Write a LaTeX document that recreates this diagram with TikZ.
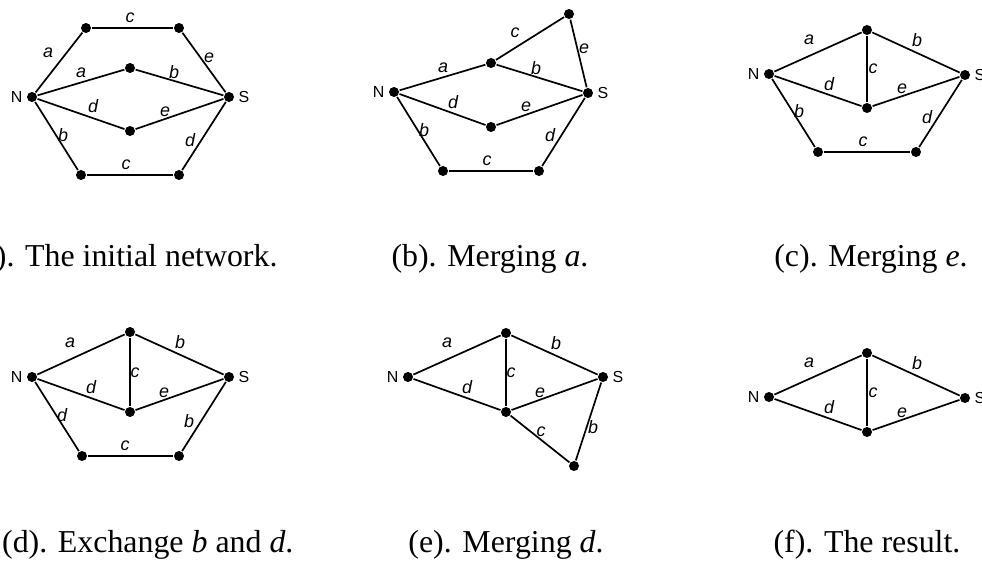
\documentclass[tikz,border=0pt]{standalone}
\usepackage{fontspec}
\setmainfont{Liberation Serif}
\setsansfont{Liberation Sans}
\usetikzlibrary{positioning}

\begin{document}
\begin{tikzpicture}[x=1bp,y=-1bp,line width=1.7bp,
      dot/.style={circle,fill,inner sep=0pt,minimum size=10bp},
      elbl/.style={font=\fontsize{18}{18}\sffamily\itshape,inner sep=0pt},
      nlbl/.style={font=\fontsize{16}{16}\sffamily,inner sep=1pt,label distance=2bp},
      captext/.style={font=\fontsize{32}{32}\selectfont,anchor=base}]
      \useasboundingbox (0,0) rectangle (982,561);
      \clip (0,0) rectangle (982,561);

      % (a) the initial network
      \node[dot,label={[nlbl]left:N}] (aN) at (32,97) {};
      \node[dot,label={[nlbl]right:S}] (aS) at (229,97) {};
      \node[dot] (aTL) at (86,28) {};
      \node[dot] (aTR) at (179,28) {};
      \node[dot] (aM1) at (130,68) {};
      \node[dot] (aM2) at (130,131) {};
      \node[dot] (aBL) at (81,175) {};
      \node[dot] (aBR) at (179,175) {};
      \path
        (aN) edge (aTL) (aTL) edge (aTR) (aTR) edge (aS)
        (aN) edge (aM1) (aM1) edge (aS)
        (aN) edge (aM2) (aM2) edge (aS)
        (aN) edge (aBL) (aBL) edge (aBR) (aBR) edge (aS);
      \node[elbl] at (48,53) {a};
      \node[elbl] at (130,18) {c};
      \node[elbl] at (209,58) {e};
      \node[elbl] at (81,73) {a};
      \node[elbl] at (174,72) {b};
      \node[elbl] at (93,106) {d};
      \node[elbl] at (165,112) {e};
      \node[elbl] at (63,135) {b};
      \node[elbl] at (190,140) {d};
      \node[elbl] at (126,165) {c};
      \node[captext,anchor=base west] (capa) at (-33,267) {(a). The initial network.};

      % (b) merging a
      \node[dot,label={[nlbl]left:N}] (bN) at (394,92) {};
      \node[dot,label={[nlbl]right:S}] (bS) at (588,93) {};
      \node[dot] (bT) at (569,14) {};
      \node[dot] (bM1) at (491,63) {};
      \node[dot] (bM2) at (491,127) {};
      \node[dot] (bBL) at (443,171) {};
      \node[dot] (bBR) at (539,171) {};
      \path
        (bN) edge (bM1) (bM1) edge (bT) (bT) edge (bS) (bM1) edge (bS)
        (bN) edge (bM2) (bM2) edge (bS)
        (bN) edge (bBL) (bBL) edge (bBR) (bBR) edge (bS);
      \node[elbl] at (515,33) {c};
      \node[elbl] at (584,49) {e};
      \node[elbl] at (443,68) {a};
      \node[elbl] at (536,68) {b};
      \node[elbl] at (453,102) {d};
      \node[elbl] at (526,107) {e};
      \node[elbl] at (424,130) {b};
      \node[elbl] at (550,135) {d};
      \node[elbl] at (487,161) {c};
      \node[captext] (capb) at (490,267) {(b). Merging \textit{a}.};

      % (c) merging e
      \node[dot,label={[nlbl]left:N}] (cN) at (769,74) {};
      \node[dot,label={[nlbl]right:S}] (cS) at (965,75) {};
      \node[dot] (cT) at (867,30) {};
      \node[dot] (cM) at (867,108) {};
      \node[dot] (cBL) at (818,152) {};
      \node[dot] (cBR) at (916,152) {};
      \path
        (cN) edge (cT) (cT) edge (cS) (cT) edge (cM)
        (cN) edge (cM) (cM) edge (cS)
        (cN) edge (cBL) (cBL) edge (cBR) (cBR) edge (cS);
      \node[elbl] at (809,40) {a};
      \node[elbl] at (917,40) {b};
      \node[elbl] at (873,69) {c};
      \node[elbl] at (829,84) {d};
      \node[elbl] at (902,89) {e};
      \node[elbl] at (799,111) {b};
      \node[elbl] at (927,117) {d};
      \node[elbl] at (863,142) {c};
      \node[captext] (capc) at (871,267) {(c). Merging \textit{e}.};

      % (d) exchange b and d
      \node[dot,label={[nlbl]left:N}] (dN) at (32,377) {};
      \node[dot,label={[nlbl]right:S}] (dS) at (229,377) {};
      \node[dot] (dT) at (130,332) {};
      \node[dot] (dM) at (130,412) {};
      \node[dot] (dBL) at (82,456) {};
      \node[dot] (dBR) at (179,456) {};
      \path
        (dN) edge (dT) (dT) edge (dS) (dT) edge (dM)
        (dN) edge (dM) (dM) edge (dS)
        (dN) edge (dBL) (dBL) edge (dBR) (dBR) edge (dS);
      \node[elbl] at (70,343) {a};
      \node[elbl] at (180,342) {b};
      \node[elbl] at (135,373) {c};
      \node[elbl] at (91,387) {d};
      \node[elbl] at (164,393) {e};
      \node[elbl] at (62,415) {d};
      \node[elbl] at (189,421) {b};
      \node[elbl] at (125,446) {c};
      \node[captext,anchor=base west] (capd) at (-2,552) {(d). Exchange \textit{b} and \textit{d}.};

      % (e) merging d
      \node[dot,label={[nlbl]left:N}] (eN) at (408,377) {};
      \node[dot,label={[nlbl]right:S}] (eS) at (603,377) {};
      \node[dot] (eT) at (506,333) {};
      \node[dot] (eM) at (506,412) {};
      \node[dot] (eB) at (574,466) {};
      \path
        (eN) edge (eT) (eT) edge (eS) (eT) edge (eM)
        (eN) edge (eM) (eM) edge (eS)
        (eM) edge (eB) (eB) edge (eS);
      \node[elbl] at (447,343) {a};
      \node[elbl] at (556,343) {b};
      \node[elbl] at (511,373) {c};
      \node[elbl] at (467,387) {d};
      \node[elbl] at (540,393) {e};
      \node[elbl] at (541,432) {c};
      \node[elbl] at (593,427) {b};
      \node[captext] (cape) at (506,552) {(e). Merging \textit{d}.};

      % (f) the result
      \node[dot,label={[nlbl]left:N}] (fN) at (769,397) {};
      \node[dot,label={[nlbl]right:S}] (fS) at (965,398) {};
      \node[dot] (fT) at (867,353) {};
      \node[dot] (fM) at (867,432) {};
      \path
        (fN) edge (fT) (fT) edge (fS) (fT) edge (fM)
        (fN) edge (fM) (fM) edge (fS);
      \node[elbl] at (809,363) {a};
      \node[elbl] at (917,363) {b};
      \node[elbl] at (873,393) {c};
      \node[elbl] at (829,407) {d};
      \node[elbl] at (902,413) {e};
      \node[captext] (capf) at (867,552) {(f). The result.};
\end{tikzpicture}
\end{document}
